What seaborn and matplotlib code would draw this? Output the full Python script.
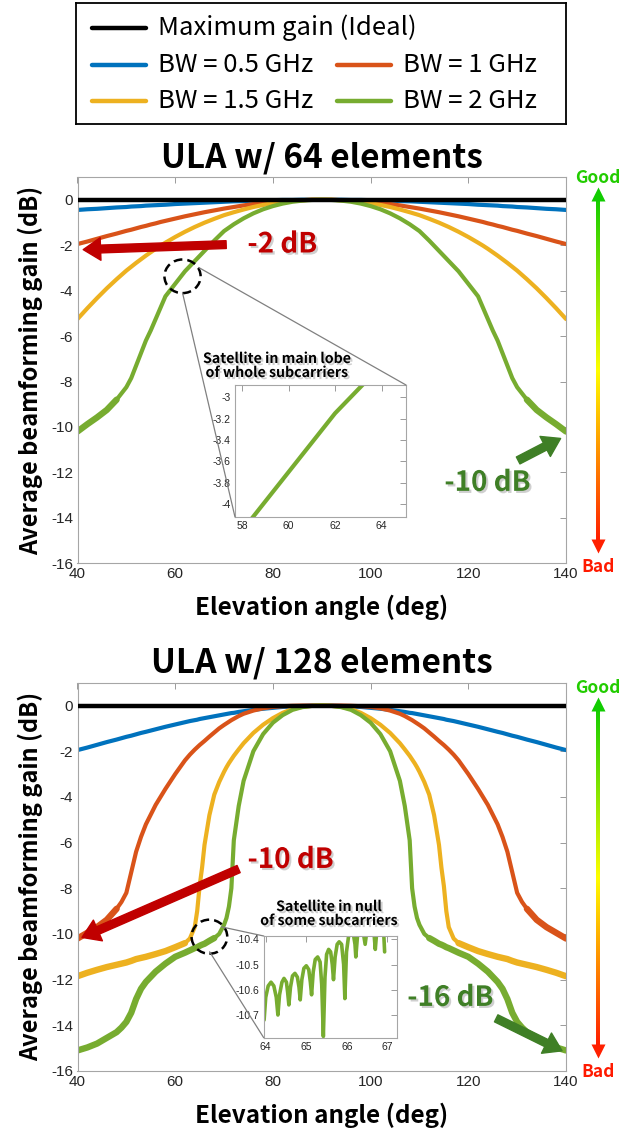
import numpy as np
import pandas as pd
import seaborn as sns
import matplotlib.pyplot as plt
import matplotlib.patheffects as pe
from matplotlib.patches import Ellipse, ConnectionPatch, FancyArrowPatch
from matplotlib.colors import LinearSegmentedColormap

sns.set_theme(style='white')
plt.rcParams['font.family'] = ['Noto Sans CJK KR', 'DejaVu Sans']
plt.rcParams['axes.unicode_minus'] = False
plt.rcParams['text.color'] = 'black'
plt.rcParams['axes.labelcolor'] = 'black'

W, H = 636, 1129

SERIES = ['BW = 0.5 GHz', 'BW = 1 GHz', 'BW = 1.5 GHz', 'BW = 2 GHz']
IDEAL = 'Maximum gain (Ideal)'
COLORS = ['#0072BD', '#D95319', '#EDB120', '#77AC30']

IDEAL_ANG = [40, 140]
IDEAL_GAIN = [0, 0]

# ULA 64 소자 (40~90도, 90도 기준 대칭)
ANG_64 = [40, 42, 44, 46, 48, 50, 51, 52, 53, 54, 55, 56, 57, 58, 60, 62, 64, 66, 68, 70,
          72, 74, 76, 78, 80, 82, 84, 86, 88, 90]
BW05_64 = [-0.45, -0.42, -0.40, -0.37, -0.34, -0.32, -0.30, -0.29, -0.28, -0.26, -0.25, -0.24,
           -0.23, -0.22, -0.19, -0.17, -0.15, -0.13, -0.11, -0.09, -0.07, -0.06, -0.04, -0.03,
           -0.02, -0.01, -0.01, 0, 0, 0]
BW1_64 = [-1.95, -1.84, -1.72, -1.60, -1.49, -1.37, -1.32, -1.26, -1.20, -1.15, -1.09, -1.04,
          -0.98, -0.93, -0.83, -0.73, -0.64, -0.55, -0.47, -0.39, -0.32, -0.25, -0.19, -0.14,
          -0.10, -0.06, -0.04, -0.02, 0, 0]
BW15_64 = [-5.25, -4.78, -4.33, -3.90, -3.50, -3.12, -2.95, -2.78, -2.62, -2.46, -2.31, -2.16,
           -2.02, -1.89, -1.64, -1.41, -1.20, -1.01, -0.84, -0.68, -0.55, -0.43, -0.32, -0.23,
           -0.15, -0.09, -0.05, -0.02, 0, 0]
BW2_64 = [-10.20, -9.88, -9.58, -9.25, -8.80, -8.25, -7.85, -7.30, -6.75, -6.20, -5.75, -5.25,
          -4.75, -4.25, -3.70, -3.15, -2.70, -2.25, -1.80, -1.38, -1.08, -0.82, -0.60, -0.42,
          -0.28, -0.17, -0.09, -0.04, -0.01, 0]

# ULA 128 소자
ANG_128 = [40, 42, 44, 46, 48, 49, 50, 51, 52, 53, 54, 56, 58, 60, 62, 63, 64, 64.5, 65, 65.5,
           66, 67, 68, 69, 70, 70.5, 71, 71.5, 72, 73, 74, 76, 78, 80, 82, 84, 86, 88, 90]
BW05_128 = [-1.95, -1.84, -1.72, -1.60, -1.49, -1.43, -1.37, -1.32, -1.26, -1.20, -1.15, -1.04,
            -0.93, -0.83, -0.73, -0.68, -0.64, -0.62, -0.59, -0.57, -0.55, -0.51, -0.47, -0.43,
            -0.39, -0.37, -0.35, -0.33, -0.32, -0.28, -0.25, -0.19, -0.14, -0.10, -0.06, -0.04,
            -0.02, 0, 0]
BW1_128 = [-10.20, -9.95, -9.70, -9.38, -8.90, -8.60, -8.20, -7.30, -6.40, -5.75, -5.20, -4.35,
           -3.65, -3.00, -2.40, -2.15, -1.93, -1.83, -1.73, -1.64, -1.55, -1.36, -1.18, -1.00,
           -0.85, -0.78, -0.71, -0.64, -0.58, -0.46, -0.36, -0.22, -0.12, -0.06, -0.03, -0.01,
           0, 0, 0]
BW15_128 = [-11.85, -11.70, -11.57, -11.45, -11.35, -11.30, -11.25, -11.18, -11.10, -11.05,
            -11.00, -10.88, -10.75, -10.58, -10.40, -10.20, -9.70, -9.00, -7.90, -7.10, -6.10,
            -4.80, -3.90, -3.35, -2.90, -2.70, -2.52, -2.36, -2.20, -1.92, -1.65, -1.20, -0.84,
            -0.55, -0.32, -0.15, -0.06, -0.015, 0]
BW2_128 = [-15.10, -14.97, -14.80, -14.55, -14.30, -14.10, -13.85, -13.45, -12.85, -12.40,
           -12.10, -11.65, -11.30, -11.00, -10.82, -10.72, -10.62, -10.58, -10.52, -10.47,
           -10.43, -10.30, -10.18, -10.00, -9.60, -9.30, -8.80, -8.00, -5.90, -4.40, -3.30,
           -2.00, -1.25, -0.75, -0.42, -0.19, -0.07, -0.015, 0]

# 잡음(리플)이 큰 구간: 이 각도 바깥쪽은 선을 굵게
RIPPLE_64 = {'BW = 2 GHz': 48}
RIPPLE_128 = {'BW = 1 GHz': 48, 'BW = 1.5 GHz': 62, 'BW = 2 GHz': 68}

# 128 소자 확대 그림 (null 근처 리플)
ZOOM_ANG = [63.96, 64.00, 64.06, 64.13, 64.20, 64.26, 64.30, 64.34, 64.40, 64.45, 64.51, 64.54,
            64.57, 64.61, 64.66, 64.72, 64.78, 64.82, 64.85, 64.89, 64.94, 65.00, 65.06, 65.10,
            65.13, 65.17, 65.22, 65.28, 65.34, 65.38, 65.42, 65.46, 65.50, 65.55, 65.60, 65.64,
            65.67, 65.71, 65.76, 65.81, 65.87, 65.92, 65.95, 65.99, 66.04, 66.10, 66.16, 66.20,
            66.22, 66.26, 66.33, 66.40, 66.45, 66.49, 66.58, 66.66, 66.70, 66.74, 66.82, 66.90,
            66.93]
ZOOM_GAIN = [-10.72, -10.63, -10.585, -10.57, -10.585, -10.63, -10.70, -10.62, -10.57, -10.555,
             -10.57, -10.61, -10.66, -10.59, -10.545, -10.535, -10.55, -10.59, -10.64, -10.56,
             -10.515, -10.505, -10.52, -10.57, -10.62, -10.53, -10.48, -10.47, -10.49, -10.58,
             -10.785, -10.55, -10.46, -10.44, -10.45, -10.50, -10.56, -10.47, -10.42, -10.41,
             -10.42, -10.50, -10.635, -10.45, -10.39, -10.37, -10.38, -10.42, -10.47, -10.39,
             -10.35, -10.37, -10.42, -10.37, -10.33, -10.36, -10.44, -10.36, -10.32, -10.35,
             -10.45]


def mirror(ang, gain):
    # 90도 기준 좌우 대칭
    return ang + [180 - a for a in ang[-2::-1]], gain + gain[-2::-1]


def long_frame(ang, gains):
    rows = []
    for name, g in zip(SERIES, gains):
        a, v = mirror(ang, g)
        rows += [{'series': name, 'angle': x, 'gain': y} for x, y in zip(a, v)]
    return pd.DataFrame(rows)


df64 = long_frame(ANG_64, [BW05_64, BW1_64, BW15_64, BW2_64])
df128 = long_frame(ANG_128, [BW05_128, BW1_128, BW15_128, BW2_128])
ideal = pd.DataFrame({'angle': IDEAL_ANG, 'gain': IDEAL_GAIN})
zoom128 = pd.DataFrame({'angle': ZOOM_ANG, 'gain': ZOOM_GAIN})

RED = '#c00000'
DGREEN = '#3f7f26'
GRAD = LinearSegmentedColormap.from_list('gb', [(0, '#ff1a00'), (0.5, '#ffff00'), (1, '#11cc00')])
TICK = 'Liberation Sans'


def fig_rect(l, t, r, b):
    return [l / W, 1 - b / H, (r - l) / W, (b - t) / H]


def style_axes(ax, size):
    ax.tick_params(direction='in', top=True, right=True, length=4, width=0.7, colors='#9a9a9a',
                   labelcolor='#262626', labelsize=size, labelfontfamily=TICK, pad=3)
    for s in ax.spines.values():
        s.set_color('#a6a6a6')
        s.set_linewidth(0.8)


def shadow():
    return [pe.withSimplePatchShadow(offset=(1.5, -1.5), shadow_rgbFace='#777777', alpha=0.35)]


def good_bad(top, bot):
    axg = fig.add_axes(fig_rect(588, top, 608, bot))
    axg.axis('off')
    grad = np.linspace(1, 0, 256).reshape(-1, 1)
    axg.imshow(grad, cmap=GRAD, aspect='auto', extent=(-0.16, 0.16, bot - 10, top + 10),
               interpolation='bilinear')
    axg.set_xlim(-1, 1)
    axg.set_ylim(bot, top)
    axg.plot(0, top + 7, marker='^', ms=10.5, color='#11cc00', mec='none', clip_on=False)
    axg.plot(0, bot - 7, marker='v', ms=10.5, color='#ff2000', mec='none', clip_on=False)
    fig.text(598 / W, 1 - (top - 9) / H, 'Good', color='#22cc00', fontsize=12.5,
             fontweight='bold', ha='center', va='center')
    fig.text(598 / W, 1 - (bot + 14) / H, 'Bad', color='#ff1a00', fontsize=12.5,
             fontweight='bold', ha='center', va='center')


def draw_main(ax, df, ripple, title):
    sns.lineplot(data=df, x='angle', y='gain', hue='series', hue_order=SERIES, palette=COLORS,
                 linewidth=3, legend=False, estimator=None, ax=ax)
    # 리플 구간은 굵은 선으로 덧그림
    for name, lim in ripple.items():
        d = df[df['series'] == name]
        c = COLORS[SERIES.index(name)]
        for part in (d[d['angle'] <= lim], d[d['angle'] >= 180 - lim]):
            sns.lineplot(data=part, x='angle', y='gain', color=c, linewidth=4.6,
                         estimator=None, ax=ax, solid_capstyle='round')
    sns.lineplot(data=ideal, x='angle', y='gain', color='black', linewidth=3.2,
                 estimator=None, ax=ax, zorder=5)
    ax.set_xlim(40, 140)
    ax.set_ylim(-16, 1)
    ax.set_xticks(range(40, 141, 20))
    ax.set_yticks(range(-16, 1, 2))
    style_axes(ax, 11)
    ax.set_xlabel('Elevation angle (deg)', fontsize=17.5, fontweight='bold')
    ax.set_ylabel('Average beamforming gain (dB)', fontsize=17, fontweight='bold')
    ax.xaxis.set_label_coords(0.5, -0.114)
    ax.xaxis.label.set_va('center')
    ax.yaxis.set_label_coords(-0.096, 0.5)
    ax.yaxis.label.set_va('center')
    ax.set_title(title, fontsize=24, fontweight='bold', y=1.05, pad=0, va='center',
                 color='black')


def arrow(ax, start, end, color, scale=12.5):
    ax.add_patch(FancyArrowPatch(start, end, mutation_scale=scale, color=color, zorder=8,
                                 clip_on=False,
                                 arrowstyle='simple,head_length=1.0,head_width=1.3,tail_width=0.45'))


fig = plt.figure(figsize=(W / 100, H / 100), dpi=100)

# 범례
axl = fig.add_axes(fig_rect(76, 3, 566, 124))
axl.set_xlim(76, 566)
axl.set_ylim(124, 3)
axl.set_xticks([])
axl.set_yticks([])
for s in axl.spines.values():
    s.set_color('black')
    s.set_linewidth(1.3)
legend_items = [(IDEAL, 'black', 92, 28), (SERIES[0], COLORS[0], 92, 65),
                (SERIES[1], COLORS[1], 337, 65), (SERIES[2], COLORS[2], 92, 101),
                (SERIES[3], COLORS[3], 337, 101)]
for name, c, lx, ly in legend_items:
    axl.plot([lx, lx + 54], [ly, ly], color=c, lw=3.2)
    axl.text(lx + 66, ly, name, fontsize=18.5, fontweight='medium', va='center', ha='left',
             color='black')

# ULA 64
ax1 = fig.add_axes(fig_rect(77.5, 177, 566, 563.3))
draw_main(ax1, df64, RIPPLE_64, 'ULA w/ 64 elements')
ax1.add_patch(Ellipse((61.5, -3.37), 7.4, 1.48, fill=False, ec='black', lw=1.8,
                      ls=(0, (3.5, 2)), zorder=9))
ax1.text(81.9, -1.97, '-2 dB', color=RED, fontsize=20, fontweight='bold', ha='center',
         va='center', path_effects=shadow())
arrow(ax1, (71.0, -1.97), (40.6, -2.2), RED)
ax1.text(123.9, -12.46, '-10 dB', color=DGREEN, fontsize=20, fontweight='bold', ha='center',
         va='center', path_effects=shadow())
arrow(ax1, (129.7, -11.53), (139.4, -10.45), DGREEN)

in1 = fig.add_axes(fig_rect(235, 385, 406, 517))
sns.lineplot(data=df64[df64['series'] == SERIES[3]], x='angle', y='gain', color=COLORS[3],
             linewidth=3, estimator=None, ax=in1)
in1.set_xlim(57.7, 65.05)
in1.set_ylim(-4.12, -2.885)
in1.set_xticks([58, 60, 62, 64])
in1.set_yticks([-4, -3.8, -3.6, -3.4, -3.2, -3])
in1.set_yticklabels(['-4', '-3.8', '-3.6', '-3.4', '-3.2', '-3'])
in1.set_xlabel('')
in1.set_ylabel('')
style_axes(in1, 7.5)
fig.text(277 / W, 1 - 366 / H, 'Satellite in main lobe\nof whole subcarriers', fontsize=10.2,
         fontweight='bold', ha='center', va='center', linespacing=1.0, path_effects=shadow())
for a, b in [((64.8, -2.98), (1, 1)), ((61.5, -4.1), (0, 0))]:
    fig.add_artist(ConnectionPatch(a, b, coordsA=ax1.transData, coordsB=in1.transAxes,
                                   color='#808080', lw=0.9))
good_bad(187, 553)

# ULA 128
ax2 = fig.add_axes(fig_rect(77.5, 682.7, 566, 1071))
draw_main(ax2, df128, RIPPLE_128, 'ULA w/ 128 elements')
ax2.add_patch(Ellipse((67.0, -10.12), 7.3, 1.49, fill=False, ec='black', lw=1.8,
                      ls=(0, (3.5, 2)), zorder=9))
ax2.text(83.6, -6.76, '-10 dB', color=RED, fontsize=20, fontweight='bold', ha='center',
         va='center', path_effects=shadow())
arrow(ax2, (73.5, -7.11), (40.4, -10.2), RED)
ax2.text(116.3, -12.8, '-16 dB', color=DGREEN, fontsize=20, fontweight='bold', ha='center',
         va='center', path_effects=shadow())
arrow(ax2, (125.2, -13.64), (139.7, -15.17), DGREEN)

in2 = fig.add_axes(fig_rect(263.7, 936, 396.8, 1037.7))
sns.lineplot(data=zoom128, x='angle', y='gain', color=COLORS[3], linewidth=2.6,
             estimator=None, ax=in2)
in2.set_xlim(63.95, 67.23)
in2.set_ylim(-10.79, -10.387)
in2.set_xticks([64, 65, 66, 67])
in2.set_yticks([-10.7, -10.6, -10.5, -10.4])
in2.set_xlabel('')
in2.set_ylabel('')
style_axes(in2, 7.5)
fig.text(329 / W, 1 - 914 / H, 'Satellite in null\nof some subcarriers', fontsize=10.2,
         fontweight='bold', ha='center', va='center', linespacing=1.0, path_effects=shadow())
for a, b in [((69.5, -9.69), (0, 1)), ((67.05, -10.78), (0, 0))]:
    fig.add_artist(ConnectionPatch(a, b, coordsA=ax2.transData, coordsB=in2.transAxes,
                                   color='#808080', lw=0.9))
good_bad(697, 1058)

fig.savefig('out.png', dpi=100)
